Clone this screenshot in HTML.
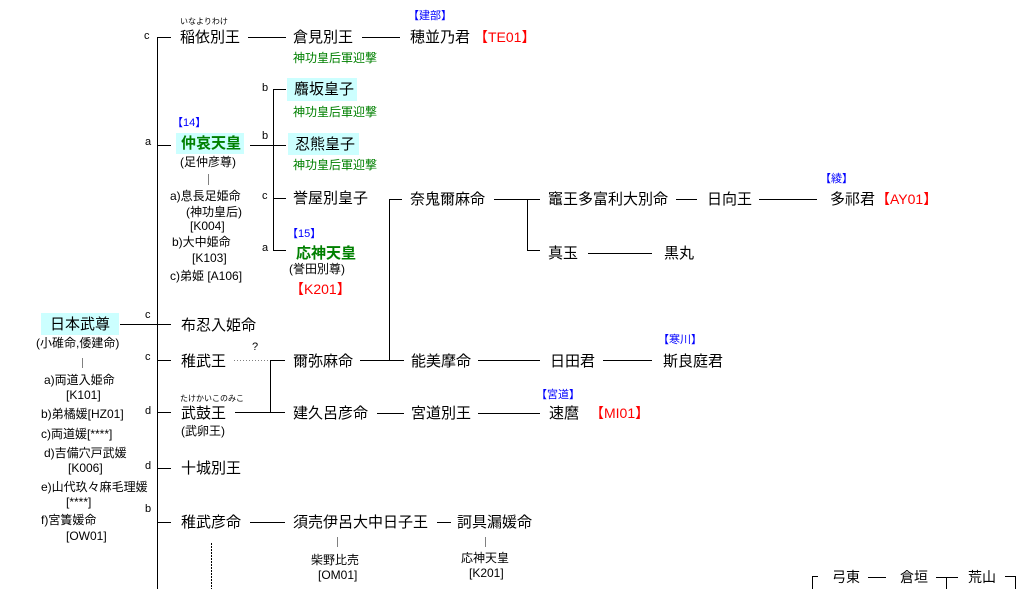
<!DOCTYPE html>
<html><head><meta charset="utf-8"><style>
html,body{margin:0;padding:0;background:#fff;}
#c{position:relative;width:1029px;height:589px;overflow:hidden;background:#fff;font-family:"Liberation Sans","Noto Sans CJK JP",sans-serif;color:#000;}
.t{position:absolute;white-space:nowrap;line-height:1;}
.m{font-size:15px;}
.s{font-size:12px;}
.g{font-size:12px;color:#008000;}
.b{font-size:11px;color:#0000ff;}
.r{font-size:14px;color:#ff0000;}
.rb{font-size:8px;}
.l{font-size:11px;}
.box{position:absolute;background:#ccffff;}
.gb{color:#008000;font-weight:bold;}
svg{position:absolute;left:0;top:0;}
</style></head><body><div id="c">
<div class="box" style="left:287px;top:78px;width:70px;height:23px"></div>
<div class="box" style="left:288px;top:133px;width:71px;height:22px"></div>
<div class="box" style="left:176px;top:133px;width:68px;height:21px"></div>
<div class="box" style="left:41px;top:313px;width:78px;height:22px"></div>

<svg width="1029" height="589" shape-rendering="crispEdges">
<g stroke="#000" stroke-width="1" fill="none">
<line x1="157.5" y1="37" x2="157.5" y2="589"/>
<line x1="157" y1="37.5" x2="171" y2="37.5"/>
<line x1="157" y1="145.5" x2="171" y2="145.5"/>
<line x1="157" y1="360.5" x2="171" y2="360.5"/>
<line x1="157" y1="412.5" x2="171" y2="412.5"/>
<line x1="157" y1="468.5" x2="171" y2="468.5"/>
<line x1="157" y1="522.5" x2="171" y2="522.5"/>
<line x1="120" y1="324.5" x2="171" y2="324.5"/>
<line x1="248" y1="37.5" x2="286" y2="37.5"/>
<line x1="362" y1="37.5" x2="400" y2="37.5"/>
<line x1="250" y1="145.5" x2="286" y2="145.5"/>
<line x1="273.5" y1="89" x2="273.5" y2="251"/>
<line x1="273" y1="89.5" x2="286" y2="89.5"/>
<line x1="273" y1="198.5" x2="286" y2="198.5"/>
<line x1="273" y1="250.5" x2="286" y2="250.5"/>
<line x1="389.5" y1="199" x2="389.5" y2="361"/>
<line x1="389" y1="199.5" x2="402" y2="199.5"/>
<line x1="360" y1="360.5" x2="404" y2="360.5"/>
<line x1="494" y1="199.5" x2="540" y2="199.5"/>
<line x1="527.5" y1="199" x2="527.5" y2="251"/>
<line x1="527" y1="250.5" x2="540" y2="250.5"/>
<line x1="676" y1="199.5" x2="697" y2="199.5"/>
<line x1="759" y1="199.5" x2="817" y2="199.5"/>
<line x1="588" y1="253.5" x2="652" y2="253.5"/>
<line x1="270.5" y1="360" x2="270.5" y2="413"/>
<line x1="270" y1="360.5" x2="285" y2="360.5"/>
<line x1="235" y1="412.5" x2="285" y2="412.5"/>
<line x1="478" y1="360.5" x2="540" y2="360.5"/>
<line x1="603" y1="360.5" x2="652" y2="360.5"/>
<line x1="377" y1="413.5" x2="404" y2="413.5"/>
<line x1="478" y1="413.5" x2="540" y2="413.5"/>
<line x1="250" y1="522.5" x2="285" y2="522.5"/>
<line x1="437" y1="522.5" x2="451" y2="522.5"/>
<line x1="211.5" y1="543" x2="211.5" y2="589" stroke-dasharray="2,1"/>
<line x1="812" y1="576.5" x2="818" y2="576.5"/>
<line x1="812.5" y1="576" x2="812.5" y2="589"/>
<line x1="868" y1="577.5" x2="886" y2="577.5"/>
<line x1="936" y1="577.5" x2="958" y2="577.5"/>
<line x1="946.5" y1="577" x2="946.5" y2="589"/>
<line x1="1005" y1="576.5" x2="1015" y2="576.5"/>
<line x1="1015.5" y1="576" x2="1015.5" y2="589"/>
</g>
<g stroke="#808080" stroke-width="1" fill="none">
<line x1="234" y1="360.5" x2="270" y2="360.5" stroke-dasharray="1,2"/>
<line x1="208.5" y1="174" x2="208.5" y2="185"/>
<line x1="82.5" y1="358" x2="82.5" y2="368"/>
<line x1="337.5" y1="537" x2="337.5" y2="547"/>
<line x1="485.5" y1="537" x2="485.5" y2="547"/>
</g>
</svg>

<!-- labels -->
<div class="t l" style="left:144px;top:31px">c</div>
<div class="t l" style="left:145px;top:137px">a</div>
<div class="t l" style="left:145px;top:310px">c</div>
<div class="t l" style="left:145px;top:352px">c</div>
<div class="t l" style="left:145px;top:406px">d</div>
<div class="t l" style="left:145px;top:461px">d</div>
<div class="t l" style="left:145px;top:504px">b</div>
<div class="t l" style="left:262px;top:83px">b</div>
<div class="t l" style="left:262px;top:131px">b</div>
<div class="t l" style="left:262px;top:191px">c</div>
<div class="t l" style="left:262px;top:243px">a</div>
<div class="t l" style="left:252px;top:342px">?</div>

<!-- ruby -->
<div class="t rb" style="left:180px;top:18px">いなよりわけ</div>
<div class="t rb" style="left:180px;top:395px">たけかいこのみこ</div>

<!-- blue -->
<div class="t b" style="left:408px;top:11px">【建部】</div>
<div class="t b" style="left:172px;top:118px">【14】</div>
<div class="t b" style="left:287px;top:229px">【15】</div>
<div class="t b" style="left:820px;top:174px">【綾】</div>
<div class="t b" style="left:658px;top:335px">【寒川】</div>
<div class="t b" style="left:536px;top:390px">【宮道】</div>

<!-- green -->
<div class="t g" style="left:293px;top:52px">神功皇后軍迎撃</div>
<div class="t g" style="left:293px;top:106px">神功皇后軍迎撃</div>
<div class="t g" style="left:293px;top:159px">神功皇后軍迎撃</div>

<!-- main names -->
<div class="t m" style="left:180px;top:30px">稲依別王</div>
<div class="t m" style="left:293px;top:30px">倉見別王</div>
<div class="t m" style="left:410px;top:30px">穂並乃君</div>
<div class="t r" style="left:474px;top:30px">【TE01】</div>
<div class="t m" style="left:294px;top:82px">麛坂皇子</div>
<div class="t m" style="left:295px;top:137px">忍熊皇子</div>
<div class="t m gb" style="left:181px;top:136px">仲哀天皇</div>
<div class="t m" style="left:293px;top:191px">誉屋別皇子</div>
<div class="t m gb" style="left:296px;top:246px">応神天皇</div>
<div class="t r" style="left:290px;top:282px">【K201】</div>
<div class="t m" style="left:410px;top:192px">奈鬼爾麻命</div>
<div class="t m" style="left:548px;top:192px">竈王多富利大別命</div>
<div class="t m" style="left:707px;top:192px">日向王</div>
<div class="t m" style="left:830px;top:192px">多祁君</div>
<div class="t r" style="left:876px;top:192px">【AY01】</div>
<div class="t m" style="left:548px;top:246px">真玉</div>
<div class="t m" style="left:664px;top:246px">黒丸</div>
<div class="t m" style="left:50px;top:317px">日本武尊</div>
<div class="t m" style="left:181px;top:318px">布忍入姫命</div>
<div class="t m" style="left:181px;top:354px">稚武王</div>
<div class="t m" style="left:293px;top:354px">爾弥麻命</div>
<div class="t m" style="left:411px;top:354px">能美摩命</div>
<div class="t m" style="left:550px;top:354px">日田君</div>
<div class="t m" style="left:663px;top:354px">斯良庭君</div>
<div class="t m" style="left:181px;top:406px">武鼓王</div>
<div class="t m" style="left:293px;top:406px">建久呂彦命</div>
<div class="t m" style="left:411px;top:406px">宮道別王</div>
<div class="t m" style="left:549px;top:406px">速麿</div>
<div class="t r" style="left:590px;top:406px">【MI01】</div>
<div class="t m" style="left:181px;top:461px">十城別王</div>
<div class="t m" style="left:181px;top:515px">稚武彦命</div>
<div class="t m" style="left:293px;top:515px">須売伊呂大中日子王</div>
<div class="t m" style="left:457px;top:515px">訶具漏媛命</div>
<div class="t" style="font-size:14px;left:832px;top:570px">弓東</div>
<div class="t" style="font-size:14px;left:900px;top:570px">倉垣</div>
<div class="t" style="font-size:14px;left:968px;top:570px">荒山</div>

<!-- small black -->
<div class="t s" style="left:180px;top:156px">(足仲彦尊)</div>
<div class="t s" style="left:170px;top:190px">a)息長足姫命</div>
<div class="t s" style="left:186px;top:206px">(神功皇后)</div>
<div class="t s" style="left:190px;top:220px">[K004]</div>
<div class="t s" style="left:172px;top:236px">b)大中姫命</div>
<div class="t s" style="left:192px;top:252px">[K103]</div>
<div class="t s" style="left:170px;top:270px">c)弟姫 [A106]</div>
<div class="t s" style="left:289px;top:263px">(誉田別尊)</div>
<div class="t s" style="left:36px;top:337px">(小碓命,倭建命)</div>
<div class="t s" style="left:44px;top:374px">a)両道入姫命</div>
<div class="t s" style="left:66px;top:389px">[K101]</div>
<div class="t s" style="left:41px;top:408px">b)弟橘媛[HZ01]</div>
<div class="t s" style="left:41px;top:428px">c)両道媛[****]</div>
<div class="t s" style="left:44px;top:447px">d)吉備穴戸武媛</div>
<div class="t s" style="left:68px;top:462px">[K006]</div>
<div class="t s" style="left:41px;top:481px">e)山代玖々麻毛理媛</div>
<div class="t s" style="left:66px;top:496px">[****]</div>
<div class="t s" style="left:41px;top:514px">f)宮簀媛命</div>
<div class="t s" style="left:66px;top:530px">[OW01]</div>
<div class="t s" style="left:181px;top:425px">(武卵王)</div>
<div class="t s" style="left:311px;top:554px">柴野比売</div>
<div class="t s" style="left:318px;top:569px">[OM01]</div>
<div class="t s" style="left:461px;top:552px">応神天皇</div>
<div class="t s" style="left:469px;top:567px">[K201]</div>
</div></body></html>
